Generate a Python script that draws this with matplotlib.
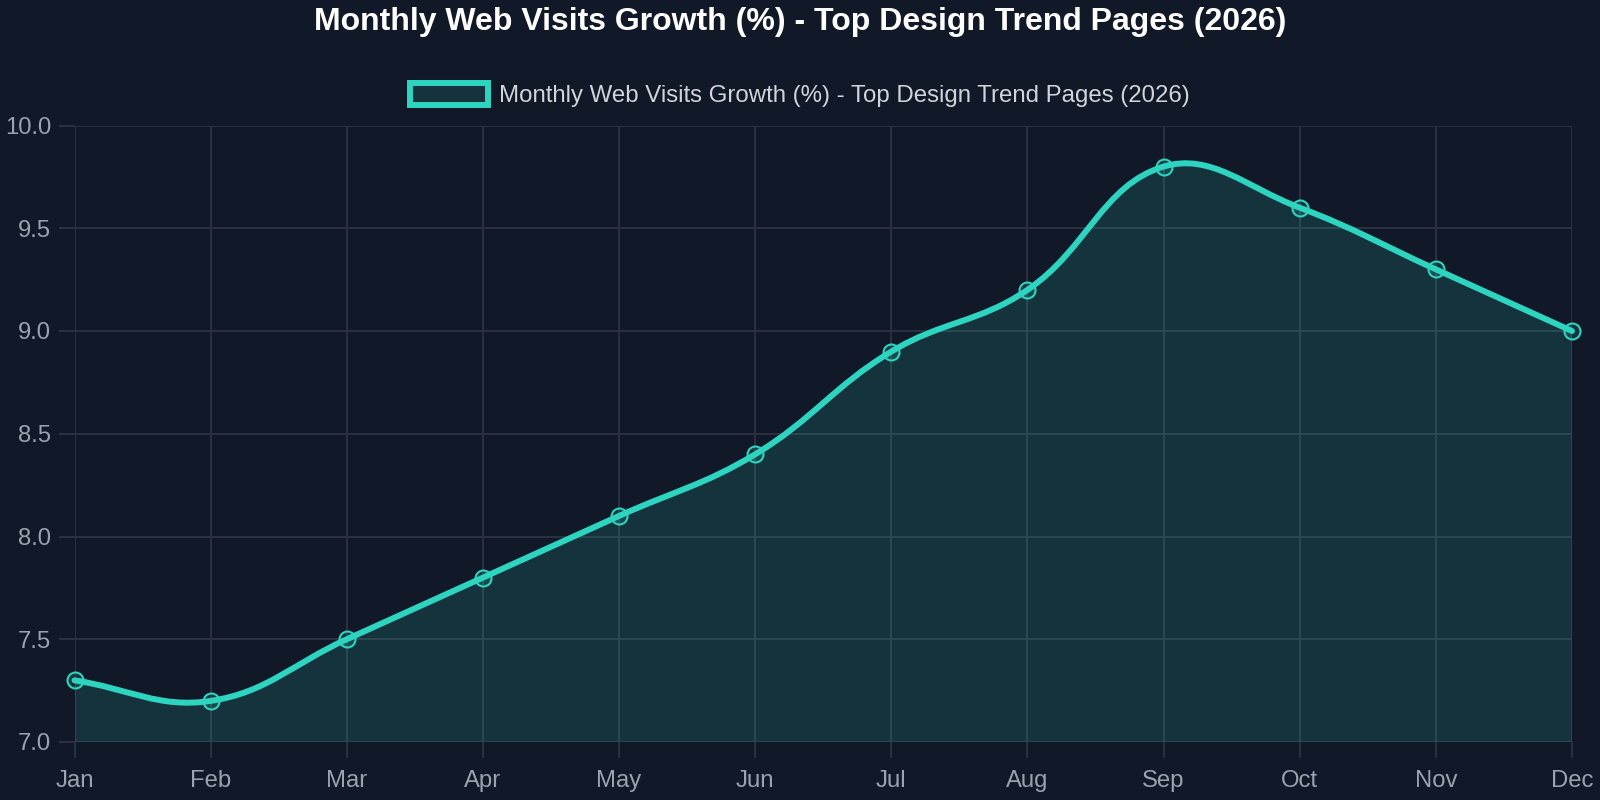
import numpy as np
import matplotlib
matplotlib.use("Agg")
import matplotlib.pyplot as plt
from matplotlib.path import Path
from matplotlib.patches import PathPatch, Patch

months = ["Jan", "Feb", "Mar", "Apr", "May", "Jun", "Jul", "Aug", "Sep", "Oct", "Nov", "Dec"]
growth = [7.3, 7.2, 7.5, 7.8, 8.1, 8.4, 8.9, 9.2, 9.8, 9.6, 9.3, 9.0]
y_ticks = [7.0, 7.5, 8.0, 8.5, 9.0, 9.5, 10.0]
title = "Monthly Web Visits Growth (%) - Top Design Trend Pages (2026)"
series_name = "Monthly Web Visits Growth (%) - Top Design Trend Pages (2026)"

BG = "#111827"
TEAL = "#2dd4bf"
FILL = (45 / 255, 212 / 255, 191 / 255, 0.15)
GRID = "#2a303e"
TICK = "#9ca3af"
LEG = "#d1d5db"

plt.rcParams["font.family"] = ["Liberation Sans", "DejaVu Sans"]

W, H = 1600, 800
fig = plt.figure(figsize=(16, 8), dpi=100, facecolor=BG)
left, right, top, bottom = 74.5, 1572, 125.5, 742
ax = fig.add_axes([left / W, 1 - bottom / H, (right - left) / W, (bottom - top) / H])
ax.set_facecolor(BG)

x = np.arange(len(months), dtype=float)
ax.set_xlim(0, len(months) - 1)
ax.set_ylim(y_ticks[0], y_ticks[-1])

# Chart.js-style bezier (tension 0.4) computed in pixel space
pts = ax.transData.transform(np.column_stack([x, growth]))
px, py = pts[:, 0], pts[:, 1]
t = 0.4
n = len(px)
cp_prev, cp_next = [], []
bbox = ax.bbox
for i in range(n):
    p = max(i - 1, 0)
    q = min(i + 1, n - 1)
    d01 = np.hypot(px[i] - px[p], py[i] - py[p])
    d12 = np.hypot(px[q] - px[i], py[q] - py[i])
    tot = d01 + d12
    s01 = d01 / tot if tot else 0
    s12 = d12 / tot if tot else 0
    fa, fb = t * s01, t * s12
    a = np.array([px[i] - fa * (px[q] - px[p]), py[i] - fa * (py[q] - py[p])])
    b = np.array([px[i] + fb * (px[q] - px[p]), py[i] + fb * (py[q] - py[p])])
    for c in (a, b):
        c[0] = min(max(c[0], bbox.x0), bbox.x1)
        c[1] = min(max(c[1], bbox.y0), bbox.y1)
    cp_prev.append(a)
    cp_next.append(b)

verts = [(px[0], py[0])]
codes = [Path.MOVETO]
for i in range(n - 1):
    verts += [tuple(cp_next[i]), tuple(cp_prev[i + 1]), (px[i + 1], py[i + 1])]
    codes += [Path.CURVE4] * 3
inv = ax.transData.inverted()
verts_data = inv.transform(np.array(verts))

line_path = Path(verts_data, codes)
fill_verts = [(x[0], y_ticks[0])] + list(map(tuple, verts_data)) + [(x[-1], y_ticks[0]), (x[0], y_ticks[0])]
fill_codes = [Path.MOVETO, Path.LINETO] + codes[1:] + [Path.LINETO, Path.CLOSEPOLY]
ax.add_patch(PathPatch(Path(fill_verts, fill_codes), facecolor=FILL, edgecolor="none", zorder=1))
ax.add_patch(PathPatch(line_path, facecolor="none", edgecolor=TEAL, lw=4.3,
                       capstyle="round", joinstyle="round", zorder=3, clip_on=False))
ax.plot(x, growth, linestyle="none", marker="o", markersize=11.5, markerfacecolor=FILL,
        markeredgecolor=TEAL, markeredgewidth=1.5, zorder=4, clip_on=False)

ax.set_xticks(x)
ax.set_xticklabels(months)
ax.set_yticks(y_ticks)
ax.set_yticklabels([f"{v:.1f}" for v in y_ticks])
ax.grid(True, color=GRID, alpha=1.0, linewidth=1.44, zorder=0)
ax.set_axisbelow(True)
for s in ax.spines.values():
    s.set_visible(False)
ax.tick_params(axis="both", length=11.5, width=1.44, color=GRID, labelcolor=TICK, labelsize=17.2)
ax.tick_params(axis="x", pad=9)
ax.tick_params(axis="y", pad=5.5)

fig.text(0.5, 1 - 22 / H, title, ha="center", va="center", color="#ffffff",
         fontsize=23, fontweight="bold")

handle = Patch(facecolor=FILL, edgecolor=TEAL, linewidth=4.3)
leg = fig.legend([handle], [series_name], loc="center", bbox_to_anchor=(0.5, 1 - 95 / H),
                 frameon=False, fontsize=17.3, handlelength=3.25, handleheight=1.0,
                 handletextpad=0.45, borderpad=0)
for txt in leg.get_texts():
    txt.set_color(LEG)

fig.savefig("out.png", dpi=100, facecolor=BG)
